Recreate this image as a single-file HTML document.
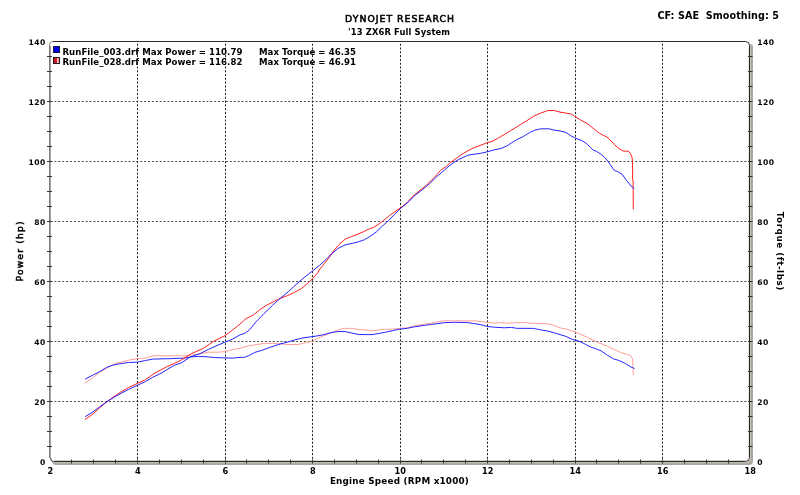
<!DOCTYPE html>
<html><head><meta charset="utf-8"><title>Dynojet Research</title>
<style>html,body{margin:0;padding:0;background:#fff;width:800px;height:495px;overflow:hidden}svg{display:block;will-change:transform}</style>
</head><body>
<svg width="800" height="495" viewBox="0 0 800 495"><path d="M52,44 H750 Q753,44 753,47 V461 Q753,465 749,465 H55 Q53,465 52,462 Z" fill="#aca89f"/>
<path d="M54,462.5 H749 M750.5,46 V461" stroke="#cfccc5" stroke-width="1" stroke-dasharray="1.2 0.8"/>
<path d="M53,41 H746 Q750,41 750,45 V458 Q750,462 746,462 H53 Q49,462 49,458 V45 Q49,41 53,41 Z" fill="#fff"/>
<path d="M50.55,401.5 H748 M50.55,341.5 H748 M50.55,281.5 H748 M50.55,221.5 H748 M50.55,161.5 H748 M50.55,101.5 H748 " stroke="#4a4a4a" stroke-width="1" stroke-dasharray="2 1.8975"/>
<path d="M137.5,43.7 V460 M225.5,43.7 V460 M312.5,43.7 V460 M400.5,43.7 V460 M487.5,43.7 V460 M575.5,43.7 V460 M662.5,43.7 V460 " stroke="#222" stroke-width="1" stroke-dasharray="2.1 1.69"/>
<path d="M54,460.5 H745.5" stroke="#d2d2d2" stroke-width="1"/>
<path d="M748.5,46 V457" stroke="#d8d8d8" stroke-width="1" stroke-dasharray="1 1"/>
<path d="M53,41.5 H745.5 Q749.5,41.5 749.5,45.5 V457.5 Q749.5,461.5 745.5,461.5 H53.5" fill="none" stroke="#2a2a2a" stroke-width="1"/>
<path d="M50.5,458 V46" fill="none" stroke="#a8a49c" stroke-width="1"/>
<path d="M49.5,458 V46 Q49.5,41.5 53,41.5" fill="none" stroke="#7c7c7c" stroke-width="1"/>
<path d="M50.5,458 Q50.5,461.5 53.5,461.5" fill="none" stroke="#2a2a2a" stroke-width="1"/>
<path d="M47,56.5 H52 M748,56.5 H752.5 M47,71.5 H52 M748,71.5 H752.5 M47,86.5 H52 M748,86.5 H752.5 M47,101.5 H52 M748,101.5 H752.5 M47,116.5 H52 M748,116.5 H752.5 M47,131.5 H52 M748,131.5 H752.5 M47,146.5 H52 M748,146.5 H752.5 M47,161.5 H52 M748,161.5 H752.5 M47,176.5 H52 M748,176.5 H752.5 M47,191.5 H52 M748,191.5 H752.5 M47,206.5 H52 M748,206.5 H752.5 M47,221.5 H52 M748,221.5 H752.5 M47,236.5 H52 M748,236.5 H752.5 M47,251.5 H52 M748,251.5 H752.5 M47,266.5 H52 M748,266.5 H752.5 M47,281.5 H52 M748,281.5 H752.5 M47,296.5 H52 M748,296.5 H752.5 M47,311.5 H52 M748,311.5 H752.5 M47,326.5 H52 M748,326.5 H752.5 M47,341.5 H52 M748,341.5 H752.5 M47,356.5 H52 M748,356.5 H752.5 M47,371.5 H52 M748,371.5 H752.5 M47,386.5 H52 M748,386.5 H752.5 M47,401.5 H52 M748,401.5 H752.5 M47,416.5 H52 M748,416.5 H752.5 M47,431.5 H52 M748,431.5 H752.5 M47,446.5 H52 M748,446.5 H752.5 M71.5,459.5 V463.5 M93.5,459.5 V463.5 M115.5,459.5 V463.5 M137.5,459.5 V463.5 M159.5,459.5 V463.5 M181.5,459.5 V463.5 M203.5,459.5 V463.5 M225.5,459.5 V463.5 M246.5,459.5 V463.5 M268.5,459.5 V463.5 M290.5,459.5 V463.5 M312.5,459.5 V463.5 M334.5,459.5 V463.5 M356.5,459.5 V463.5 M378.5,459.5 V463.5 M400.5,459.5 V463.5 M421.5,459.5 V463.5 M443.5,459.5 V463.5 M465.5,459.5 V463.5 M487.5,459.5 V463.5 M509.5,459.5 V463.5 M531.5,459.5 V463.5 M553.5,459.5 V463.5 M575.5,459.5 V463.5 M596.5,459.5 V463.5 M618.5,459.5 V463.5 M640.5,459.5 V463.5 M662.5,459.5 V463.5 M684.5,459.5 V463.5 M706.5,459.5 V463.5 M728.5,459.5 V463.5 " stroke="#333" stroke-width="1"/>
<polyline points="84.8,383.3 92.1,378.5 99.4,372.4 106.7,368.5 115.2,363.3 122.4,361.8 130.9,359.7 137.6,358.7 145.5,358.1 153.9,355.7 160,355.7 172.1,355.8 184.2,355.8 191.5,355.2 201.2,353.6 208.5,352.2 218.2,352.2 225.2,351.6 232.7,349.6 240,348.3 247.3,346.1 254.5,344.8 264.2,343.4 274,343.4 281.2,344 288.5,344.5 298.2,344.5 305.5,342.8 312.5,341.2 320,337.3 326.1,334.8 332.1,332.4 338.2,330 344.2,328.4 352.7,328.4 358.8,329.6 366,330 372.1,330.8 378.2,330 385.5,329.4 392.7,329 399.4,328.4 407.3,327.8 414.5,325.8 424.2,324.2 431.5,323.2 436.4,322.2 443.6,320.8 454.5,320.8 467.9,320.8 475.2,320.8 480,321.6 487.3,322.3 494.5,323.4 499.4,322.6 506.7,323.2 516.4,322.6 526.1,322.6 530.9,323.4 543,323.4 550.3,324.4 555.2,325.8 560,327.9 566.1,329.1 572.1,330.9 578.2,333.3 584.2,335.8 590.3,338.8 596.4,341.8 602.4,344.2 608.5,346.7 614.5,349.7 620.6,352.5 626.7,354.2 630.3,355.4 632.5,358.8 633,366 633.3,375.2" fill="none" stroke="#ff9f98" stroke-width="1" stroke-linejoin="round"/>
<polyline points="85.1,379.1 92.1,375.5 99.4,371.8 106.7,367.3 112.7,365.2 120,363.7 128.5,362.5 137.6,362.1 145.5,360.5 152.7,359.1 160,358.9 169.7,358.7 184.2,358.1 191.5,356.9 198.8,356.4 208.5,356.9 214.5,357.6 225.2,357.9 232.7,358.1 240,357.3 244.8,357.3 249.7,355.2 254.5,352.5 261.8,350.3 270.3,347.3 280,344 288.5,341.8 294.5,340 303,337.9 312.5,336.6 320,335.5 326.1,334 332.1,332.4 338.2,331.5 345.5,331.6 351.5,333 358.8,334.5 366,334.6 372.1,334.6 378.2,333.6 385.5,332.2 392.7,330.6 399.4,329.2 407.3,328.3 414.5,326.8 424.2,325.4 431.5,324.4 436.4,323.8 444.8,322.6 454.5,322.3 467.9,322.6 472.7,323.4 480,324.5 487.3,326.5 494.5,327.2 504.2,327.8 511.5,327.4 516.4,328.3 533.3,328.4 540.6,329.8 547.9,331.1 555.2,333.1 560,334.6 566.1,336.4 572.1,339.4 578.2,340.8 584.2,343.6 590.3,346.9 595.2,348.5 601.2,350.9 607.3,355.2 613.3,358.8 619.4,360.6 625.5,363.6 630.3,366.7 634.5,368.5" fill="none" stroke="#2424ff" stroke-width="1" stroke-linejoin="round"/>
<polyline points="84.8,419.7 92.1,414.6 99.4,408.2 106.7,401.8 113.9,396.7 121.2,391.8 128.5,387.6 137.6,383.3 145.5,379.7 152.7,374.5 160,370.3 167.3,366.4 174.5,363.3 181.8,359.7 191.5,353.6 203.6,348.2 213.3,341.5 225.2,335.5 232.7,330 240,324.1 246.1,318.5 253.3,315.1 259.4,310 265.5,305.8 272.7,302.1 280,298.5 287.3,295.7 294.5,292.4 301.8,288.2 307.9,283.3 312.5,278.7 317.6,273 319.1,270 324.5,263.3 329.4,257.3 334.2,250 339.1,244.5 345.2,239.1 351.2,236.7 356.1,234.8 362.1,232.4 369.4,228.8 373,227.6 379.1,223.9 383.9,220.3 389.4,215.5 390.9,214.5 400.4,207.9 406.7,203 412.7,196.4 420,190.3 426.1,185.5 432.1,179.4 437,174.5 440.6,170.3 446.7,166.1 450,162.7 456.1,158.5 462.1,154.2 468.2,150.6 474.2,147.6 480.3,145.4 487.3,142.7 492.4,141.3 498.5,137.9 505.8,133.6 513,129.2 520.3,124.6 526.1,121.2 533.3,116.4 540.6,113.1 547.9,110.5 553.9,110.5 560,112.1 566.1,113.1 570.9,113.9 574.8,116.4 580.6,120 587.9,124 594,129 598.1,132.3 602.1,134.7 607,137.1 610.2,140 614.2,144.4 618.3,148 622.3,150.7 625.6,151.3 628,151 630.4,153.3 632,157.3 632.4,161 632.6,170 632.6,180 633.1,181 633.3,209.4" fill="none" stroke="#ff2020" stroke-width="1" stroke-linejoin="round"/>
<polyline points="85.1,416.7 92.1,412.4 99.4,407 106.7,401.8 113.9,397.3 121.2,393.3 128.5,389.4 137.6,385.2 145.5,381.5 152.7,377.3 160,373.8 167.3,369.4 174.5,365.2 181.8,362.7 190.3,356.9 200,353.6 208.5,349.4 217,345.5 225.2,342.1 232.7,339.1 240,334.8 244.8,333.3 249.7,329.7 255.8,322.1 264.2,313.4 272.7,305.2 280,298.5 288.5,291.6 293.3,287 299.4,281.5 306.7,275.5 312.5,271 319.7,265.2 325.8,259.7 331.8,253.6 337.9,248.5 345.2,244.9 352.4,243.3 358.5,241.8 364.5,239.7 370.6,236.1 376.7,231.6 382.7,225.8 388.8,220.3 394.5,214.5 400.4,208.5 407.9,202.4 415.2,195.2 422.4,189.7 429.7,183.6 437,176.4 444.2,170.3 450,165.2 456.1,160.9 462.1,157.9 468.2,155.1 474.2,154.2 480.3,153.4 487.3,151.8 493.6,150 500.9,148.5 507,145.8 511.8,142.7 516.7,139.7 522.7,136.9 529.7,132.5 534.5,130.3 540.6,128.8 549.1,128.8 553.9,130.1 560,130.9 566.1,132.5 570.9,135.8 574.8,137.8 581.8,140.6 586.7,143.6 590.3,147.3 593.2,150.2 596.5,151.3 601.3,154.5 604.5,157.3 607.8,161 610,164.4 614.4,170.6 617.8,171.7 622.2,174.4 626.7,180.6 631.1,186.1 634.4,188.7" fill="none" stroke="#2424ff" stroke-width="1" stroke-linejoin="round"/>
<rect x="53.5" y="46.5" width="6" height="6" fill="#0000f8" stroke="#1a1a30" stroke-width="1"/>
<defs><linearGradient id="rg"><stop offset="0" stop-color="#cc1020"/><stop offset="0.5" stop-color="#d81828"/><stop offset="0.65" stop-color="#ffc8c8"/><stop offset="0.85" stop-color="#ff8a8a"/><stop offset="1" stop-color="#ff9a9a"/></linearGradient></defs>
<rect x="53.5" y="57.5" width="6" height="6" fill="url(#rg)" stroke="#1a1a1a" stroke-width="1"/>
<text x="345.1" y="21.6" style="font-family:'DejaVu Sans','Liberation Sans',sans-serif;font-size:9.3px;font-weight:normal" text-anchor="start" textLength="109" lengthAdjust="spacing" stroke="#000" stroke-width="0.55" xml:space="preserve">DYNOJET RESEARCH</text>
<text x="348.1" y="34.5" style="font-family:'DejaVu Sans','Liberation Sans',sans-serif;font-size:8.4px;font-weight:bold" text-anchor="start" textLength="102" lengthAdjust="spacing" xml:space="preserve">&#39;13 ZX6R Full System</text>
<text x="657.4" y="18.5" style="font-family:'DejaVu Sans','Liberation Sans',sans-serif;font-size:9.6px;font-weight:bold" text-anchor="start" textLength="121.5" lengthAdjust="spacing" xml:space="preserve">CF: SAE  Smoothing: 5</text>
<text x="62.4" y="54.5" style="font-family:'DejaVu Sans','Liberation Sans',sans-serif;font-size:8.6px;font-weight:bold" text-anchor="start" textLength="180" lengthAdjust="spacing" xml:space="preserve">RunFile_003.drf Max Power = 110.79</text>
<text x="62.4" y="64.5" style="font-family:'DejaVu Sans','Liberation Sans',sans-serif;font-size:8.6px;font-weight:bold" text-anchor="start" textLength="180" lengthAdjust="spacing" xml:space="preserve">RunFile_028.drf Max Power = 116.82</text>
<text x="259" y="54.5" style="font-family:'DejaVu Sans','Liberation Sans',sans-serif;font-size:8.6px;font-weight:bold" text-anchor="start" textLength="97" lengthAdjust="spacing" xml:space="preserve">Max Torque = 46.35</text>
<text x="259" y="64.5" style="font-family:'DejaVu Sans','Liberation Sans',sans-serif;font-size:8.6px;font-weight:bold" text-anchor="start" textLength="97" lengthAdjust="spacing" xml:space="preserve">Max Torque = 46.91</text>
<text x="45.620000000000005" y="465.0" style="font-family:'DejaVu Sans','Liberation Sans',sans-serif;font-size:7.6px;font-weight:bold" text-anchor="end" letter-spacing="0.42" xml:space="preserve">0</text>
<text x="757.3" y="465.0" style="font-family:'DejaVu Sans','Liberation Sans',sans-serif;font-size:7.6px;font-weight:bold" text-anchor="start" letter-spacing="0.42" xml:space="preserve">0</text>
<text x="45.620000000000005" y="405.0" style="font-family:'DejaVu Sans','Liberation Sans',sans-serif;font-size:7.6px;font-weight:bold" text-anchor="end" letter-spacing="0.42" xml:space="preserve">20</text>
<text x="757.3" y="405.0" style="font-family:'DejaVu Sans','Liberation Sans',sans-serif;font-size:7.6px;font-weight:bold" text-anchor="start" letter-spacing="0.42" xml:space="preserve">20</text>
<text x="45.620000000000005" y="345.0" style="font-family:'DejaVu Sans','Liberation Sans',sans-serif;font-size:7.6px;font-weight:bold" text-anchor="end" letter-spacing="0.42" xml:space="preserve">40</text>
<text x="757.3" y="345.0" style="font-family:'DejaVu Sans','Liberation Sans',sans-serif;font-size:7.6px;font-weight:bold" text-anchor="start" letter-spacing="0.42" xml:space="preserve">40</text>
<text x="45.620000000000005" y="285.0" style="font-family:'DejaVu Sans','Liberation Sans',sans-serif;font-size:7.6px;font-weight:bold" text-anchor="end" letter-spacing="0.42" xml:space="preserve">60</text>
<text x="757.3" y="285.0" style="font-family:'DejaVu Sans','Liberation Sans',sans-serif;font-size:7.6px;font-weight:bold" text-anchor="start" letter-spacing="0.42" xml:space="preserve">60</text>
<text x="45.620000000000005" y="225.0" style="font-family:'DejaVu Sans','Liberation Sans',sans-serif;font-size:7.6px;font-weight:bold" text-anchor="end" letter-spacing="0.42" xml:space="preserve">80</text>
<text x="757.3" y="225.0" style="font-family:'DejaVu Sans','Liberation Sans',sans-serif;font-size:7.6px;font-weight:bold" text-anchor="start" letter-spacing="0.42" xml:space="preserve">80</text>
<text x="45.620000000000005" y="165.0" style="font-family:'DejaVu Sans','Liberation Sans',sans-serif;font-size:7.6px;font-weight:bold" text-anchor="end" letter-spacing="0.42" xml:space="preserve">100</text>
<text x="757.3" y="165.0" style="font-family:'DejaVu Sans','Liberation Sans',sans-serif;font-size:7.6px;font-weight:bold" text-anchor="start" letter-spacing="0.42" xml:space="preserve">100</text>
<text x="45.620000000000005" y="105.0" style="font-family:'DejaVu Sans','Liberation Sans',sans-serif;font-size:7.6px;font-weight:bold" text-anchor="end" letter-spacing="0.42" xml:space="preserve">120</text>
<text x="757.3" y="105.0" style="font-family:'DejaVu Sans','Liberation Sans',sans-serif;font-size:7.6px;font-weight:bold" text-anchor="start" letter-spacing="0.42" xml:space="preserve">120</text>
<text x="45.620000000000005" y="45.0" style="font-family:'DejaVu Sans','Liberation Sans',sans-serif;font-size:7.6px;font-weight:bold" text-anchor="end" letter-spacing="0.42" xml:space="preserve">140</text>
<text x="757.3" y="45.0" style="font-family:'DejaVu Sans','Liberation Sans',sans-serif;font-size:7.6px;font-weight:bold" text-anchor="start" letter-spacing="0.42" xml:space="preserve">140</text>
<text x="50.3" y="474" style="font-family:'DejaVu Sans','Liberation Sans',sans-serif;font-size:8.2px;font-weight:bold" text-anchor="middle" xml:space="preserve">2</text>
<text x="137.8" y="474" style="font-family:'DejaVu Sans','Liberation Sans',sans-serif;font-size:8.2px;font-weight:bold" text-anchor="middle" xml:space="preserve">4</text>
<text x="225.3" y="474" style="font-family:'DejaVu Sans','Liberation Sans',sans-serif;font-size:8.2px;font-weight:bold" text-anchor="middle" xml:space="preserve">6</text>
<text x="312.8" y="474" style="font-family:'DejaVu Sans','Liberation Sans',sans-serif;font-size:8.2px;font-weight:bold" text-anchor="middle" xml:space="preserve">8</text>
<text x="400.3" y="474" style="font-family:'DejaVu Sans','Liberation Sans',sans-serif;font-size:8.2px;font-weight:bold" text-anchor="middle" xml:space="preserve">10</text>
<text x="487.8" y="474" style="font-family:'DejaVu Sans','Liberation Sans',sans-serif;font-size:8.2px;font-weight:bold" text-anchor="middle" xml:space="preserve">12</text>
<text x="575.3" y="474" style="font-family:'DejaVu Sans','Liberation Sans',sans-serif;font-size:8.2px;font-weight:bold" text-anchor="middle" xml:space="preserve">14</text>
<text x="662.8" y="474" style="font-family:'DejaVu Sans','Liberation Sans',sans-serif;font-size:8.2px;font-weight:bold" text-anchor="middle" xml:space="preserve">16</text>
<text x="750.3" y="474" style="font-family:'DejaVu Sans','Liberation Sans',sans-serif;font-size:8.2px;font-weight:bold" text-anchor="middle" xml:space="preserve">18</text>
<text x="329.9" y="484.3" style="font-family:'DejaVu Sans','Liberation Sans',sans-serif;font-size:8.8px;font-weight:bold" text-anchor="start" textLength="139" lengthAdjust="spacing" xml:space="preserve">Engine Speed (RPM x1000)</text>
<g transform="translate(22.5,251.5) rotate(-90)"><text x="0" y="0" style="font-family:'DejaVu Sans','Liberation Sans',sans-serif;font-size:9.2px;font-weight:normal" text-anchor="middle" textLength="60" lengthAdjust="spacing" stroke="#000" stroke-width="0.5" xml:space="preserve">Power (hp)</text></g>
<g transform="translate(776.6,251) rotate(90)"><text x="0" y="0" style="font-family:'DejaVu Sans','Liberation Sans',sans-serif;font-size:8.8px;font-weight:bold" text-anchor="middle" textLength="78.6" lengthAdjust="spacing" xml:space="preserve">Torque (ft-lbs)</text></g></svg>
</body></html>
